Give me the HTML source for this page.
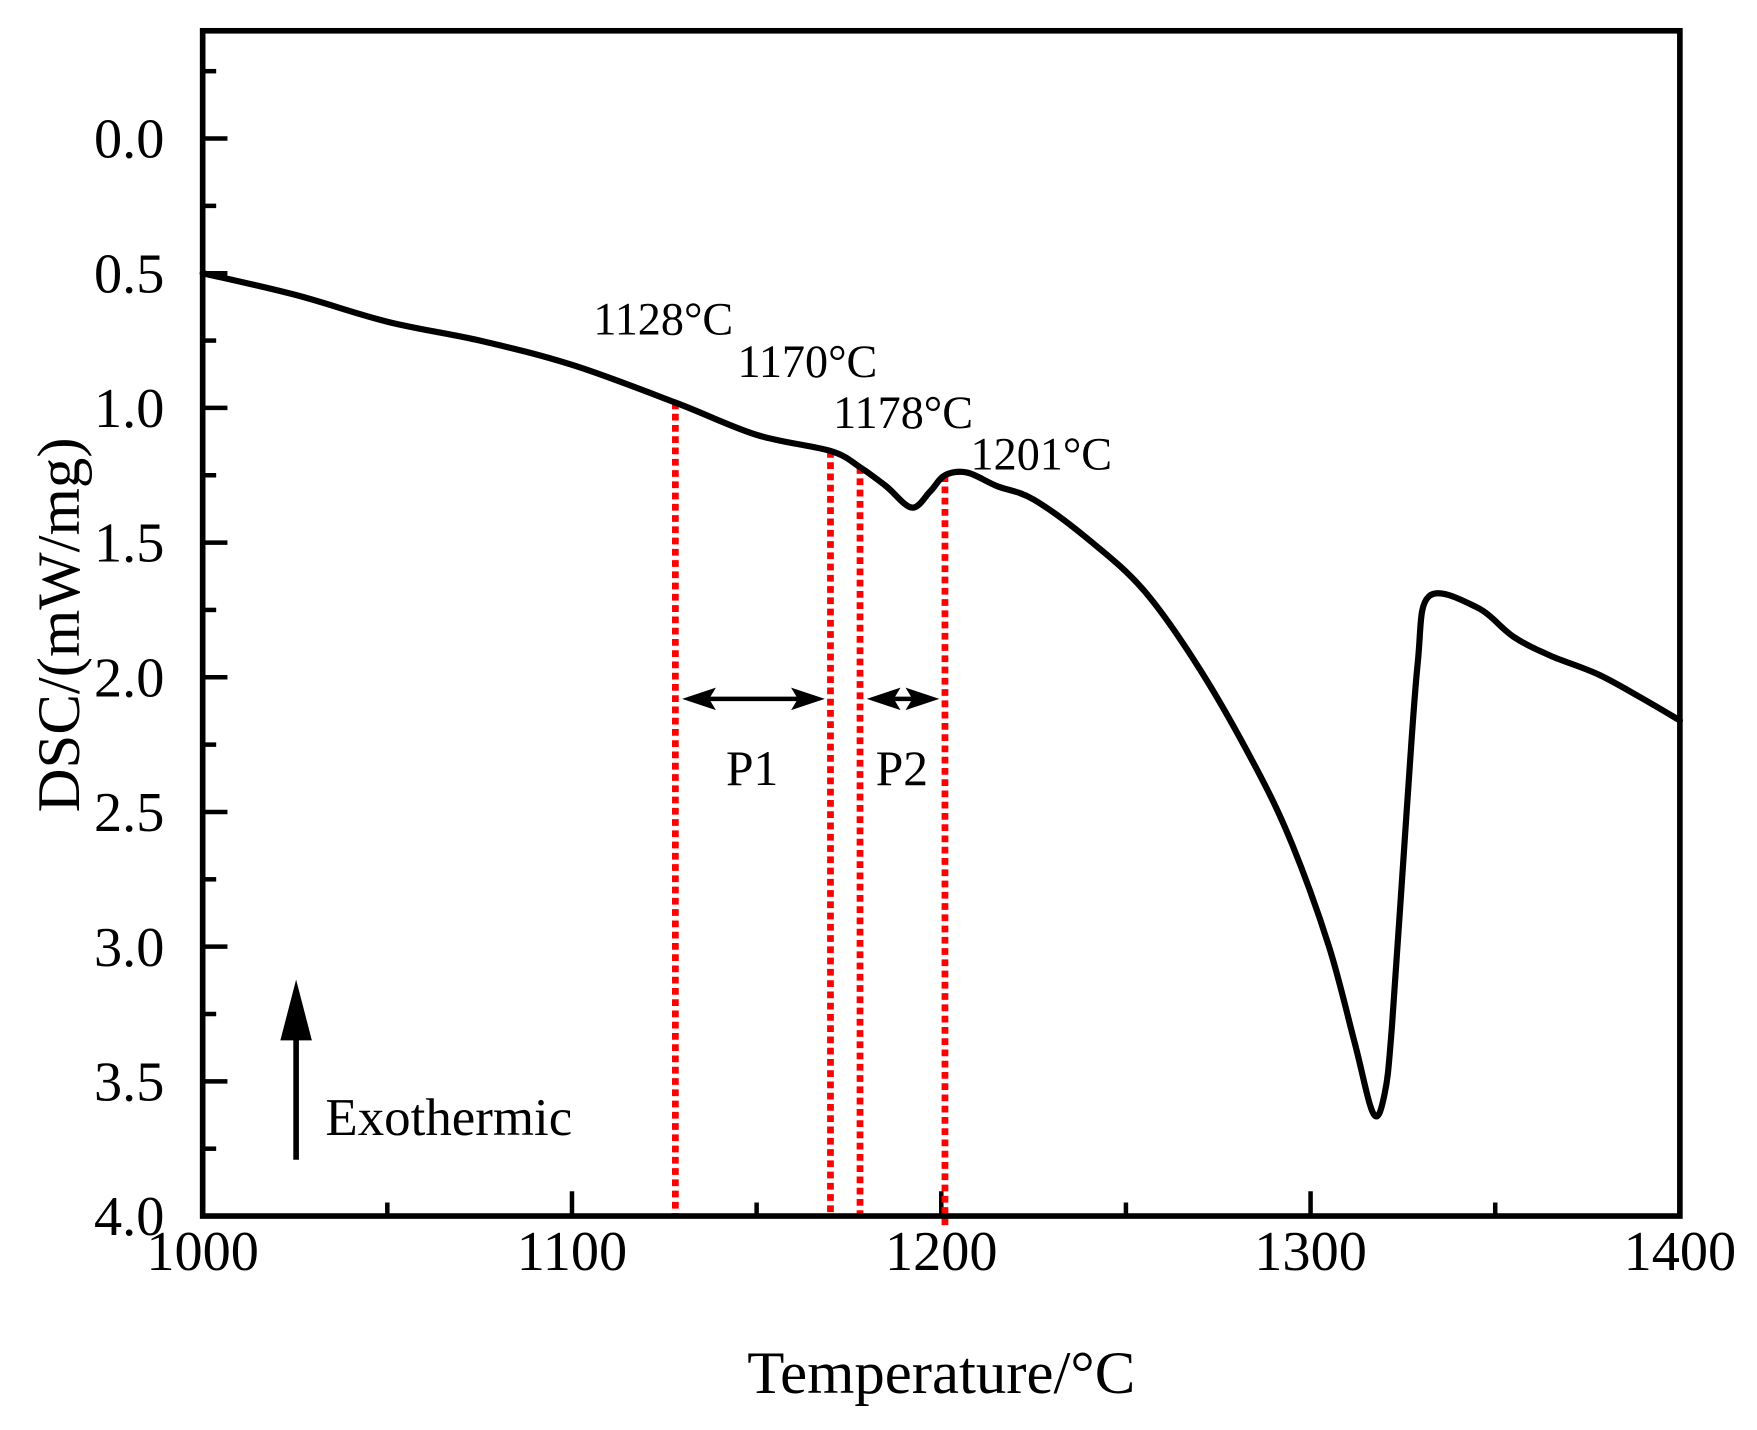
<!DOCTYPE html>
<html><head><meta charset="utf-8"><style>
html,body{margin:0;padding:0;background:#fff;}
svg{display:block;font-family:"Liberation Serif",serif;}
</style></head><body>
<svg id="chart" width="1757" height="1430" viewBox="0 0 1560.5 1270" xmlns="http://www.w3.org/2000/svg">
<g id="plot"></g>
</svg>
<script>
const temps = [1000,1025,1050,1075,1100,1128,1150,1170,1178,1185,1192,1197,1201,1207,1215,1225,1240,1255,1270,1285,1295,1305,1312,1317,1320,1322,1326,1329,1332,1345,1355,1365,1378,1390,1400];
const dscValues = [0.50,0.58,0.68,0.75,0.84,0.98,1.10,1.16,1.22,1.29,1.37,1.31,1.25,1.24,1.29,1.34,1.49,1.68,1.97,2.33,2.62,3.00,3.36,3.62,3.55,3.30,2.50,1.95,1.70,1.74,1.85,1.92,1.99,2.08,2.16];
const xTicks = [1000,1100,1200,1300,1400];
const xTickLabels = ["1000","1100","1200","1300","1400"];
const yTicks = [0,0.5,1.0,1.5,2.0,2.5,3.0,3.5,4.0];
const yTickLabels = ["0.0","0.5","1.0","1.5","2.0","2.5","3.0","3.5","4.0"];
const markerTemps = [1128,1170,1178,1201];
const markerValues = [0.98,1.16,1.22,1.25];
const markerLabels = ["1128°C","1170°C","1178°C","1201°C"];

const L=180,R=1492,T=27.3,B=1080;
const x = v => L + (v-1000)*(R-L)/400;
const y = v => 123 + v*239.25;
const NS="http://www.w3.org/2000/svg";
const g=document.getElementById('plot');
function mk(tag,attrs,parent){const e=document.createElementNS(NS,tag);for(const k in attrs)e.setAttribute(k,attrs[k]);(parent||g).appendChild(e);return e;}

for(let v=1000;v<=1400;v+=50){
  const t=mk('line',{x1:x(v),x2:x(v),y1:B,y2:B-(v%100===0?22:12),stroke:'#000','stroke-width':4});
  
  
}
for(let v=-0.25;v<=4.0001;v+=0.25){
  const major=Math.abs(v*2-Math.round(v*2))<1e-6;
  const t=mk('line',{x1:L,x2:L+(major?22:12),y1:y(v),y2:y(v),stroke:'#000','stroke-width':4});
  
  
}
xTicks.forEach((v,i)=>{
  const t=mk('text',{x:x(v),y:1128,'font-size':50,'text-anchor':'middle'});t.textContent=xTickLabels[i];
  
  
});
yTicks.forEach((v,i)=>{
  const t=mk('text',{x:146,y:y(v)+17,'font-size':50,'text-anchor':'end'});t.textContent=yTickLabels[i];
  
  
});

markerTemps.forEach((v,i)=>{
  const ln=mk('line',{x1:x(v),x2:x(v),y1:y(markerValues[i]),y2:(i===3?B+10:B-2),stroke:'#f00','stroke-width':6,'stroke-dasharray':'6 4'});
  
  
});
const labelPos=[[527,297],[655,335],[740,380],[862,417]];
markerLabels.forEach((s,i)=>{
  const t=mk('text',{x:labelPos[i][0],y:labelPos[i][1],'font-size':41});t.textContent=s;
  
  
});

// smooth curve (Catmull-Rom)
const P=temps.map((t,i)=>[x(t),y(dscValues[i])]);
let d='M'+P[0][0].toFixed(1)+' '+P[0][1].toFixed(1);
for(let i=0;i<P.length-1;i++){
  const p0=P[Math.max(0,i-1)],p1=P[i],p2=P[i+1],p3=P[Math.min(P.length-1,i+2)];
  const k=1/6;
  const c1=[p1[0]+(p2[0]-p0[0])*k,p1[1]+(p2[1]-p0[1])*k];
  const c2=[p2[0]-(p3[0]-p1[0])*k,p2[1]-(p3[1]-p1[1])*k];
  d+=` C${c1[0].toFixed(1)} ${c1[1].toFixed(1)} ${c2[0].toFixed(1)} ${c2[1].toFixed(1)} ${p2[0].toFixed(1)} ${p2[1].toFixed(1)}`;
}
const curve=mk('path',{d:d,fill:'none',stroke:'#000','stroke-width':5.5,'stroke-linejoin':'round','stroke-linecap':'round'});



function dbl(a,b,name){
  const yy=y(2.08),x1=x(a)+6,x2=x(b)-5;
  const gg=mk('g',{});
  
  
  mk('line',{x1:x1+10,x2:x2-10,y1:yy,y2:yy,stroke:'#000','stroke-width':4},gg);
  mk('path',{d:`M${x1} ${yy} L${x1+30} ${yy-10} L${x1+24} ${yy} L${x1+30} ${yy+10}Z`,fill:'#000'},gg);
  mk('path',{d:`M${x2} ${yy} L${x2-30} ${yy-10} L${x2-24} ${yy} L${x2-30} ${yy+10}Z`,fill:'#000'},gg);
}
dbl(1128,1170,'p1-arrow');dbl(1178,1201,'p2-arrow');
const p1=mk('text',{x:668,y:697,'font-size':44,'text-anchor':'middle'});p1.textContent='P1';

const p2=mk('text',{x:801,y:697,'font-size':44,'text-anchor':'middle'});p2.textContent='P2';


const ex=mk('g',{});


mk('line',{x1:263,x2:263,y1:1030,y2:910,stroke:'#000','stroke-width':5},ex);
mk('path',{d:'M263 870 L249 924 L277 924Z',fill:'#000'},ex);
const et=mk('text',{x:289,y:1008,'font-size':47});et.textContent='Exothermic';


const fr=mk('rect',{x:L,y:T,width:R-L,height:B-T,fill:'none',stroke:'#000','stroke-width':5});


const xt=mk('text',{x:836,y:1237,'font-size':54,'text-anchor':'middle'});xt.textContent='Temperature/°C';

const yt=mk('text',{x:0,y:0,'font-size':54,'text-anchor':'middle',transform:'translate(70 555) rotate(-90)'});yt.textContent='DSC/(mW/mg)';

</script>
</body></html>
